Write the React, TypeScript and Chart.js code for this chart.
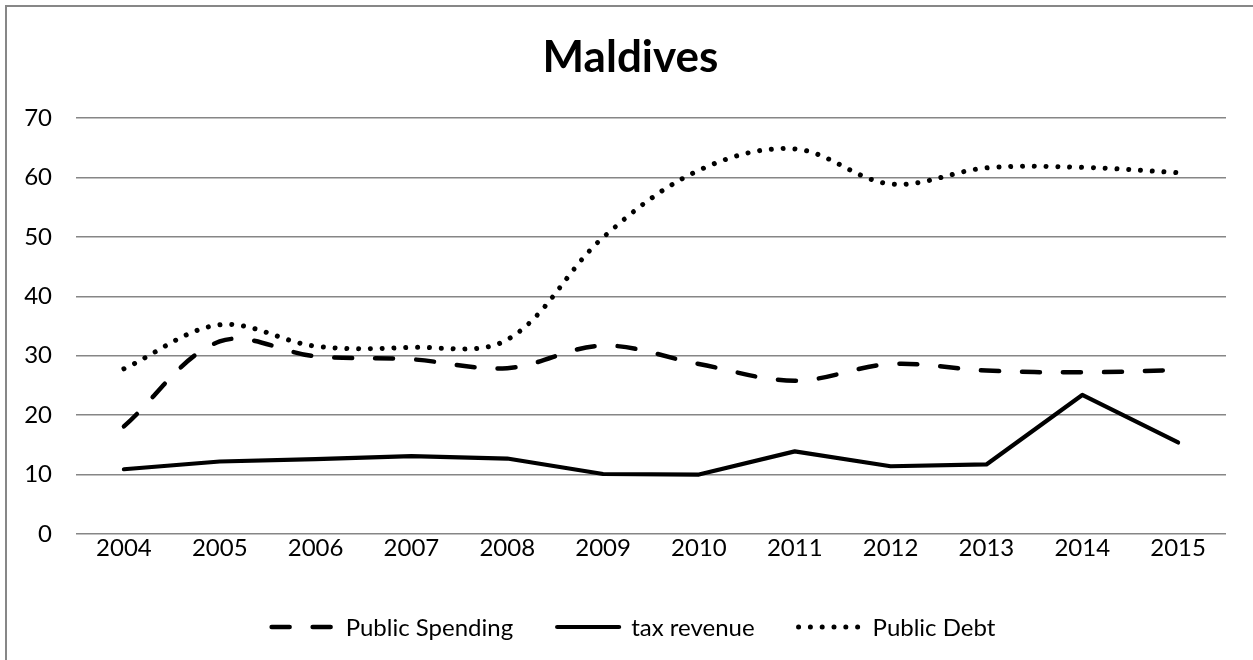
import React, { useEffect, useRef } from "react";
import { Chart, registerables } from "chart.js";

Chart.register(...registerables);

const chartTitle = "Maldives";
const years = ["2004", "2005", "2006", "2007", "2008", "2009", "2010", "2011", "2012", "2013", "2014", "2015"];
const publicSpending = [18.1, 32.4, 29.9, 29.4, 27.9, 31.7, 28.6, 25.8, 28.6, 27.5, 27.2, 27.6];
const taxRevenue = [10.9, 12.2, 12.6, 13.1, 12.7, 10.1, 10.0, 13.9, 11.4, 11.7, 23.4, 15.4];
const publicDebt = [27.8, 35.2, 31.6, 31.4, 32.7, 49.9, 61.2, 64.8, 58.9, 61.6, 61.7, 60.8];
const seriesLabels = ["Public Spending", "tax revenue", "Public Debt"];
const yMin = 0;
const yMax = 70;
const yStep = 10;

const FONT = "Lato, 'Open Sans', sans-serif";
const FONT_SIZE = 24;

const overlayPlugin = {
  id: "overlay",
  afterDraw(chart: any) {
    const ctx = chart.ctx as CanvasRenderingContext2D;
    ctx.save();
    // title
    ctx.fillStyle = "#000";
    ctx.font = `bold 44px ${FONT}`;
    ctx.textAlign = "center";
    ctx.textBaseline = "middle";
    ctx.fillText(chartTitle, chart.width / 2 + 4, 58);

    // legend
    ctx.font = `${FONT_SIZE}px ${FONT}`;
    const sample = 66;
    const textGap = 10;
    const itemGap = 42;
    const items = chart.data.datasets.map((ds: any) => ({
      ds,
      w: sample + textGap + ctx.measureText(ds.label).width,
    }));
    const total = items.reduce((a: number, b: any) => a + b.w, 0) + itemGap * (items.length - 1);
    let x = chart.width / 2 + 6 - total / 2;
    const y = 627;
    for (const it of items) {
      const ds = it.ds;
      ctx.beginPath();
      ctx.setLineDash(ds.borderDash || []);
      ctx.lineCap = "round";
      ctx.lineWidth = ds.borderWidth;
      ctx.strokeStyle = ds.borderColor;
      ctx.moveTo(x + 2, y);
      ctx.lineTo(x + sample - 2, y);
      ctx.stroke();
      ctx.setLineDash([]);
      ctx.fillStyle = "#000";
      ctx.textAlign = "left";
      ctx.textBaseline = "middle";
      ctx.fillText(ds.label, x + sample + textGap, y + 1);
      x += it.w + itemGap;
    }
    ctx.restore();
  },
};

export default function App() {
  const canvasRef = useRef<HTMLCanvasElement | null>(null);

  useEffect(() => {
    const canvas = canvasRef.current;
    if (!canvas) return;
    const chart = new Chart(canvas, {
      type: "line",
      data: {
        labels: years,
        datasets: [
          {
            label: seriesLabels[0],
            data: publicSpending,
            borderColor: "#000",
            backgroundColor: "#000",
            borderWidth: 4.5,
            borderDash: [18, 23],
            borderCapStyle: "round",
            borderJoinStyle: "round",
            tension: 0.35,
            pointRadius: 0,
            fill: false,
          },
          {
            label: seriesLabels[1],
            data: taxRevenue,
            borderColor: "#000",
            backgroundColor: "#000",
            borderWidth: 4.2,
            borderCapStyle: "round",
            borderJoinStyle: "round",
            tension: 0,
            pointRadius: 0,
            fill: false,
          },
          {
            label: seriesLabels[2],
            data: publicDebt,
            borderColor: "#000",
            backgroundColor: "#000",
            borderWidth: 5,
            borderDash: [0.01, 11.8],
            borderCapStyle: "round",
            borderJoinStyle: "round",
            tension: 0.35,
            pointRadius: 0,
            fill: false,
          },
        ],
      },
      options: {
        responsive: false,
        animation: false,
        devicePixelRatio: 1,
        layout: { padding: { left: 0, right: 27, top: 118, bottom: 96 } },
        plugins: {
          legend: { display: false },
          title: { display: false },
          tooltip: { enabled: false },
        },
        scales: {
          x: {
            type: "category",
            offset: true,
            grid: { display: false, drawTicks: false },
            border: { display: false },
            ticks: {
              color: "#000",
              font: { family: FONT, size: FONT_SIZE },
              padding: 0,
              maxRotation: 0,
              autoSkip: false,
            },
            afterFit: (s: any) => {
              s.height = 30;
            },
          },
          y: {
            min: yMin,
            max: yMax,
            ticks: {
              stepSize: yStep,
              color: "#000",
              font: { family: FONT, size: FONT_SIZE },
              padding: 24,
            },
            grid: { color: "#868686", lineWidth: 1.5, drawTicks: false },
            border: { display: false },
            afterFit: (s: any) => {
              s.width = 76;
            },
          },
        },
      },
      plugins: [overlayPlugin],
    });
    return () => chart.destroy();
  }, []);

  return (
    <div
      style={{
        position: "fixed",
        left: 0,
        top: 0,
        width: 1253,
        height: 660,
        overflow: "hidden",
        background: "#fff",
      }}
    >
      <div
        style={{
          position: "absolute",
          left: 5,
          top: 5,
          width: 1320,
          height: 720,
          border: "2px solid #878787",
          boxSizing: "border-box",
        }}
      />
      <canvas
        ref={canvasRef}
        width={1253}
        height={660}
        style={{ position: "absolute", left: 0, top: 0, width: 1253, height: 660 }}
      />
    </div>
  );
}
